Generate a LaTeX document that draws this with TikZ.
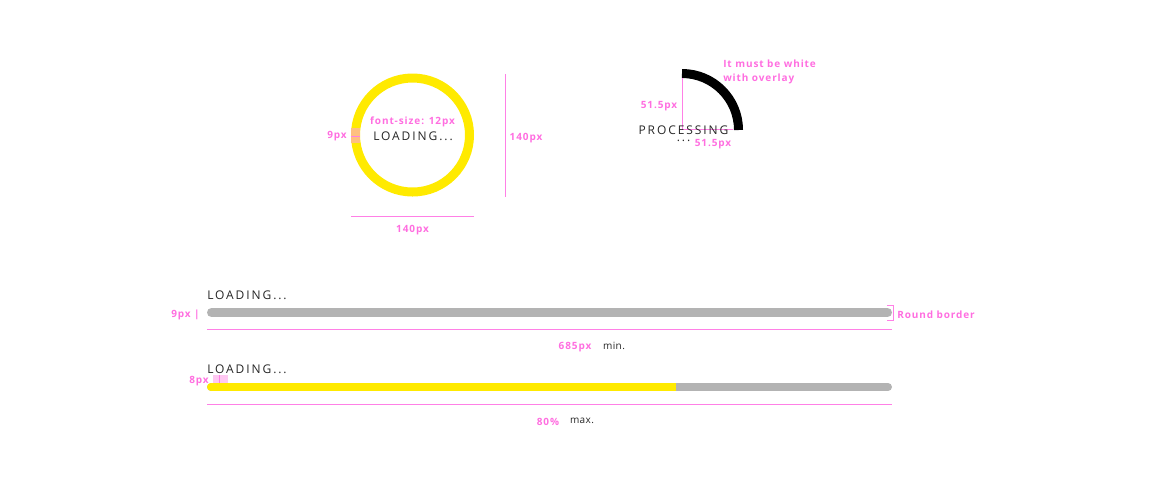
\documentclass[tikz,border=0pt]{standalone}
\usepackage{fontspec}
\setmainfont{Open Sans}
\newfontfamily\lab[LetterSpace=9]{Open Sans}
\newfontfamily\txt[LetterSpace=16]{Open Sans}
\newfontfamily\txtb[LetterSpace=4]{Open Sans}
\definecolor{pinkline}{HTML}{FF80E6}
\definecolor{pinktxt}{HTML}{FF6EE0}
\definecolor{ringyel}{HTML}{FFEA00}
\definecolor{bargray}{HTML}{B3B3B3}
\definecolor{markorange}{HTML}{FFC080}
\definecolor{marklight}{HTML}{FFC8F2}
\tikzset{
  lbl/.style={text=pinktxt, font=\lab\bfseries\fontsize{7.5pt}{9pt}\selectfont, inner sep=0pt, yshift=-1.1pt},
  captext/.style={text=black!85, font=\txt\fontsize{9pt}{11pt}\selectfont, inner sep=0pt},
  smalltext/.style={text=black!85, font=\txtb\fontsize{7.5pt}{9pt}\selectfont, inner sep=0pt},
  dimline/.style={draw=pinkline, line width=0.75pt},
}
\begin{document}
\begin{tikzpicture}[x=0.75pt,y=-0.75pt]
\useasboundingbox (0,0) rectangle (1149,480);
% ---- circle loader
\draw[ringyel, line width=6.75pt] (412.5,135) circle[radius=42.75pt];
\fill[markorange] (351,128) rectangle (360,143);
\draw[dimline] (351,136) -- (360,136);
\node[lbl] (r9) at (337,135) {9px};
\node[lbl] (fs) at (412.5,120) {font-size: 12px};
\node[captext] (load1) at (413,136) {LOADING...};
\coordinate (vt) at (505,74);
\coordinate (vb) at (505,197);
\draw[dimline] (vt) -- (vb);
\node[lbl] (h140) at (526,137) {140px};
\coordinate (hl) at (351,216);
\coordinate (hr) at (474,216);
\draw[dimline] (hl) -- (hr);
\node[lbl] (w140) at (412.5,229) {140px};
% ---- processing arc
\draw[black, line width=6.75pt] (682,73.5) arc[start angle=90, end angle=0, radius=42.375pt];
\coordinate (ac) at (682,129.5);
\coordinate (at) at (682,78);
\coordinate (ar) at (733,129.5);
\draw[dimline] (at) -- (ac) -- (ar);
\node[captext, align=center, anchor=north] (proc) at (683.5,125.5) {PROCESSING\\[-6pt]...};
\node[lbl] (l515a) at (659,105) {51.5px};
\node[lbl] (l515b) at (713,142.5) {51.5px};
\node[lbl, anchor=west, align=left] (note) at (723,70.5) {It must be white\\[1.5pt]with overlay};
% ---- bar 1
\node[captext, anchor=west] (load2) at (207,295) {LOADING...};
\draw[bargray, line width=6.75pt, line cap=round] (211.5,312.5) -- (887.5,312.5);
\node[lbl, anchor=east] (b9) at (200,313) {9px \textbar};
\coordinate (bt1) at (887,305);
\coordinate (bt2) at (893,305);
\coordinate (bb1) at (887,320.5);
\coordinate (bb2) at (893,320.5);
\draw[dimline] (bt1) -- (bt2) -- (bb2) -- (bb1);
\node[lbl, anchor=west] (round) at (897,313.5) {Round border};
\coordinate (l1a) at (207,329);
\coordinate (l1b) at (892,329);
\draw[dimline] (l1a) -- (l1b);
\node[lbl] (w685) at (575,345.5) {685px};
\node[smalltext] (min) at (614,345.5) {min.};
% ---- bar 2
\node[captext, anchor=west] (load3) at (207,369) {LOADING...};
\fill[marklight] (213,375) rectangle (228,383);
\draw[dimline] (219.5,375) -- (219.5,383);
\node[lbl, anchor=east] (b8) at (209,379.5) {8px};
\draw[bargray, line width=6pt, line cap=round] (211,387) -- (888,387);
\fill[ringyel] (211,383) rectangle (676,391);
\fill[ringyel] (211,387) circle[radius=3pt];
\coordinate (l2a) at (207,404);
\coordinate (l2b) at (892,404);
\draw[dimline] (l2a) -- (l2b);
\node[lbl] (p80) at (548,420.5) {80\%};
\node[smalltext] (max) at (582,420.5) {max.};
\end{tikzpicture}
\end{document}
